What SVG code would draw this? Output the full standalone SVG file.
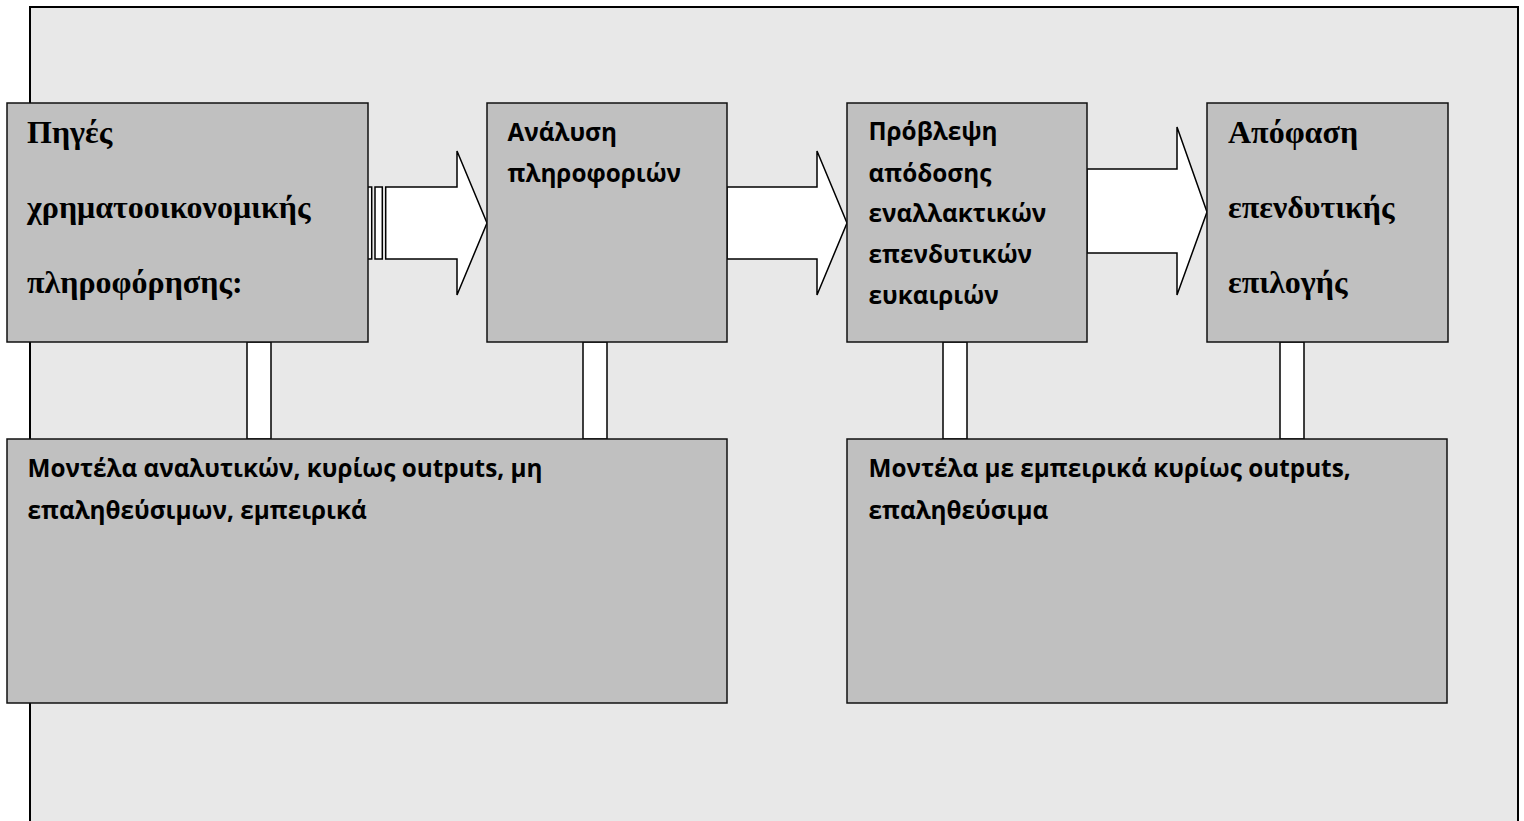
<svg xmlns="http://www.w3.org/2000/svg" width="1524" height="821" viewBox="0 0 1524 821">
<style>
.bg{fill:#e8e8e8;stroke:#000;stroke-width:2}
.box{fill:#c0c0c0;stroke:#111;stroke-width:1.5}
.con{fill:#fff;stroke:#000;stroke-width:1.5;stroke-linejoin:miter}
.serif{font-family:"Liberation Serif","Times New Roman",serif;font-weight:bold;font-size:32px;fill:#000}
.sans{font-family:"Open Sans","Noto Sans",sans-serif;font-weight:bold;font-size:24.3px;fill:#000}
</style>
<rect width="1524" height="821" fill="#fff"/>
<rect class="bg" x="30" y="7" width="1488" height="830"/>
<g id="connectors">
<rect class="con" x="367.5" y="187" width="4.2" height="72"/>
<rect class="con" x="375" y="187" width="7.3" height="72"/>
<polygon class="con" points="385.7,187 457,187 457,151 487,223 457,295 457,259 385.7,259"/>
<polygon class="con" points="727,187 817,187 817,151 847,223 817,295 817,259 727,259"/>
<polygon class="con" points="1087,169 1177,169 1177,127 1207,212 1177,295 1177,253 1087,253"/>
<rect class="con" x="247" y="342" width="24" height="97"/>
<rect class="con" x="583" y="342" width="24" height="97"/>
<rect class="con" x="943" y="342" width="24" height="97"/>
<rect class="con" x="1280" y="342" width="24" height="97"/>
</g>
<g id="n1">
<rect class="box" x="7" y="103" width="361" height="239"/>
<text class="serif" x="27" y="143">Πηγές</text>
<text class="serif" x="27" y="218">χρηματοοικονομικής</text>
<text class="serif" x="27" y="293">πληροφόρησης:</text>
</g>
<g id="n2">
<rect class="box" x="487" y="103" width="240" height="239"/>
<text class="sans" x="507.5" y="141">Ανάλυση</text>
<text class="sans" x="507.5" y="182">πληροφοριών</text>
</g>
<g id="n3">
<rect class="box" x="847" y="103" width="240" height="239"/>
<text class="sans" x="868.5" y="140">Πρόβλεψη</text>
<text class="sans" x="868.5" y="182">απόδοσης</text>
<text class="sans" x="868.5" y="222">εναλλακτικών</text>
<text class="sans" x="868.5" y="263">επενδυτικών</text>
<text class="sans" x="868.5" y="304">ευκαιριών</text>
</g>
<g id="n4">
<rect class="box" x="1207" y="103" width="241" height="239"/>
<text class="serif" x="1228" y="143">Απόφαση</text>
<text class="serif" x="1228" y="218">επενδυτικής</text>
<text class="serif" x="1228" y="293">επιλογής</text>
</g>
<g id="n5">
<rect class="box" x="7" y="439" width="720" height="264"/>
<text class="sans" x="27.5" y="477">Μοντέλα αναλυτικών, κυρίως outputs, μη</text>
<text class="sans" x="27.5" y="519">επαληθεύσιμων, εμπειρικά</text>
</g>
<g id="n6">
<rect class="box" x="847" y="439" width="600" height="264"/>
<text class="sans" x="868.5" y="477">Μοντέλα με εμπειρικά κυρίως outputs,</text>
<text class="sans" x="868.5" y="519">επαληθεύσιμα</text>
</g>
</svg>
